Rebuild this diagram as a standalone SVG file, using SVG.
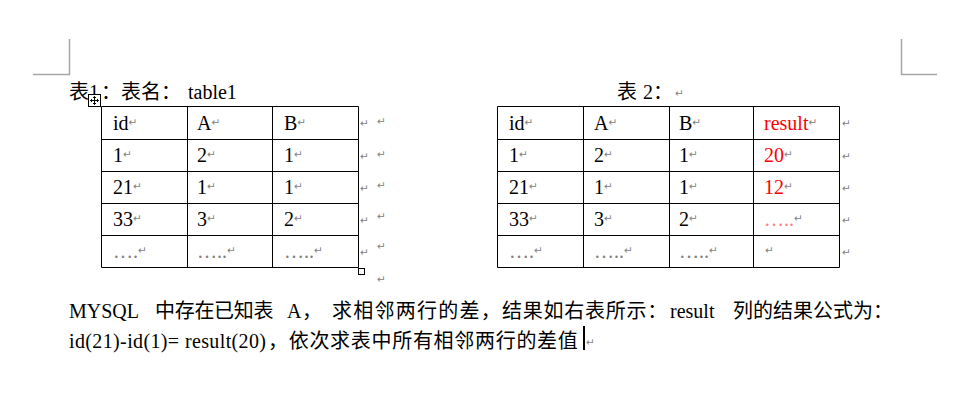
<svg xmlns="http://www.w3.org/2000/svg" width="955" height="414" viewBox="0 0 955 414">
<style>
.t{font-family:"Liberation Serif","Noto Sans CJK SC",serif;font-size:20px;fill:#000}
.c{font-family:"Noto Sans CJK SC",sans-serif;font-size:20px;fill:#000}
.rm{font-family:"DejaVu Sans",sans-serif;font-size:10.5px;fill:#808080}
.red{fill:#ff0000}
.pink{fill:#ff8080}
.gray{fill:#808080}
.grid{stroke:#000;stroke-width:1;fill:none}
.corner{stroke:#a6a6a6;stroke-width:1.5;fill:none}
</style>
<rect width="955" height="414" fill="#fff"/>
<g id="corners">
<path class="corner" d="M69.5 39V74.5H33"/>
<path class="corner" d="M901.5 39V74.5H937"/>
</g>
<g id="title1">
<text class="c" x="69" y="99">表</text>
<text class="t" x="89" y="99">1</text>
<text class="c" x="101" y="99">：表名：</text>
<text class="t" x="188" y="99">table1</text>
</g>
<g id="title2">
<text class="c" x="617" y="99">表</text>
<text class="t" x="643" y="99">2</text>
<text class="c" x="653" y="99">：</text>
<text class="rm" x="675" y="97">↵</text>
</g>
<g id="table1">
<path class="grid" d="M101.5 106.5H358.5V267.5H101.5Z M101.5 139.5H358.5 M101.5 171.5H358.5 M101.5 203.5H358.5 M101.5 235.5H358.5 M187.5 106.5V267.5 M272.5 106.5V267.5"/>
<g class="t">
<text x="113" y="130">id<tspan class="rm" dy="-4">↵</tspan></text>
<text x="197" y="130">A<tspan class="rm" dy="-4">↵</tspan></text>
<text x="284" y="130">B<tspan class="rm" dy="-4">↵</tspan></text>
<text x="113" y="162">1<tspan class="rm" dy="-4">↵</tspan></text>
<text x="197" y="162">2<tspan class="rm" dy="-4">↵</tspan></text>
<text x="284" y="162">1<tspan class="rm" dy="-4">↵</tspan></text>
<text x="113" y="194">21<tspan class="rm" dy="-4">↵</tspan></text>
<text x="197" y="194">1<tspan class="rm" dy="-4">↵</tspan></text>
<text x="284" y="194">1<tspan class="rm" dy="-4">↵</tspan></text>
<text x="113" y="226">33<tspan class="rm" dy="-4">↵</tspan></text>
<text x="197" y="226">3<tspan class="rm" dy="-4">↵</tspan></text>
<text x="284" y="226">2<tspan class="rm" dy="-4">↵</tspan></text>
<text x="113" y="258" class="gray">….<tspan class="rm" dy="-4">↵</tspan></text>
<text x="197" y="258" class="gray">…..<tspan class="rm" dy="-4">↵</tspan></text>
<text x="284" y="258" class="gray">…..<tspan class="rm" dy="-4">↵</tspan></text>
</g>
<g class="rm">
<text x="360" y="127">↵</text><text x="360" y="160">↵</text><text x="360" y="192">↵</text><text x="360" y="224">↵</text><text x="360" y="256">↵</text>
<text x="377" y="125">↵</text><text x="377" y="158">↵</text><text x="377" y="189">↵</text><text x="377" y="220">↵</text><text x="377" y="250">↵</text><text x="377" y="283">↵</text>
</g>
<rect x="88.5" y="94.5" width="12" height="12" fill="#fff" stroke="#000"/>
<path d="M94.5 96.5V104.5M90.5 100.5H98.5M93 98L94.5 96.5L96 98M93 103L94.5 104.5L96 103M92 99L90.5 100.5L92 102M97 99L98.5 100.5L97 102" stroke="#000" fill="none" stroke-width="1"/>
<rect x="358.5" y="268.5" width="6" height="6" fill="#fff" stroke="#000"/>
</g>
<g id="table2">
<path class="grid" d="M497.5 106.5H839.5V267.5H497.5Z M497.5 139.5H839.5 M497.5 171.5H839.5 M497.5 203.5H839.5 M497.5 235.5H839.5 M583.5 106.5V267.5 M669.5 106.5V267.5 M753.5 106.5V267.5"/>
<g class="t">
<text x="509" y="130">id<tspan class="rm" dy="-4">↵</tspan></text>
<text x="594" y="130">A<tspan class="rm" dy="-4">↵</tspan></text>
<text x="679" y="130">B<tspan class="rm" dy="-4">↵</tspan></text>
<text x="764" y="130" class="red">result<tspan class="rm" dy="-4">↵</tspan></text>
<text x="509" y="162">1<tspan class="rm" dy="-4">↵</tspan></text>
<text x="594" y="162">2<tspan class="rm" dy="-4">↵</tspan></text>
<text x="679" y="162">1<tspan class="rm" dy="-4">↵</tspan></text>
<text x="764" y="162" class="red">20<tspan class="rm" dy="-4">↵</tspan></text>
<text x="509" y="194">21<tspan class="rm" dy="-4">↵</tspan></text>
<text x="594" y="194">1<tspan class="rm" dy="-4">↵</tspan></text>
<text x="679" y="194">1<tspan class="rm" dy="-4">↵</tspan></text>
<text x="764" y="194" class="red">12<tspan class="rm" dy="-4">↵</tspan></text>
<text x="509" y="226">33<tspan class="rm" dy="-4">↵</tspan></text>
<text x="594" y="226">3<tspan class="rm" dy="-4">↵</tspan></text>
<text x="679" y="226">2<tspan class="rm" dy="-4">↵</tspan></text>
<text x="764" y="226" class="pink">…..<tspan class="rm" dy="-4">↵</tspan></text>
<text x="509" y="258" class="gray">….<tspan class="rm" dy="-4">↵</tspan></text>
<text x="594" y="258" class="gray">…..<tspan class="rm" dy="-4">↵</tspan></text>
<text x="679" y="258" class="gray">…..<tspan class="rm" dy="-4">↵</tspan></text>
</g>
<text class="rm" x="765" y="254">↵</text>
<g class="rm">
<text x="842" y="127">↵</text><text x="842" y="160">↵</text><text x="842" y="192">↵</text><text x="842" y="224">↵</text><text x="842" y="256">↵</text>
</g>
</g>
<g id="paragraph">
<text class="t" x="69" y="318">MYSQL</text>
<text class="c" x="155" y="318" letter-spacing="-0.3">中存在已知表</text>
<text class="t" x="287" y="318">A</text>
<text class="c" x="302" y="318">，</text>
<text class="c" x="332" y="318" letter-spacing="1.25">求相邻两行的差，</text>
<text class="c" x="502" y="318" letter-spacing="0.75">结果如右表所示：</text>
<text class="t" x="670" y="318">result</text>
<text class="c" x="733" y="318">列的结果公式为：</text>
<text class="t" x="69" y="348" textLength="197" lengthAdjust="spacing">id(21)-id(1)= result(20)</text>
<text class="c" x="268" y="348" letter-spacing="0.7">，依次求表中所有相邻两行的差值</text>
<rect x="583" y="326" width="2" height="24" fill="#000"/>
<text class="rm" x="586" y="346">↵</text>
</g>
</svg>
